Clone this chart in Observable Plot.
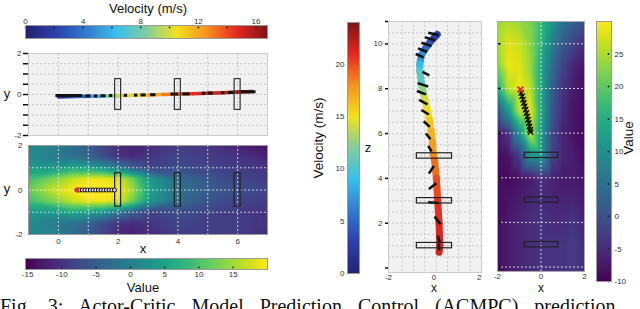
<!DOCTYPE html>
<html><head><meta charset="utf-8">
<script src="https://cdn.jsdelivr.net/npm/d3@7"></script>
<script src="https://cdn.jsdelivr.net/npm/@observablehq/plot@0.6"></script>
<style>
html,body{margin:0;padding:0;background:#fff;}
#root{position:relative;width:640px;height:309px;overflow:hidden;font-family:"Liberation Sans",Arial,sans-serif;}
.lbl{position:absolute;white-space:nowrap;color:#111;line-height:1;}
.cap{position:absolute;left:0;top:300px;width:640px;white-space:nowrap;font-family:"Liberation Serif","Times New Roman",serif;font-size:20px;line-height:12px;color:#111;word-spacing:11px;}
</style></head><body><div id="root"></div>
<script>
// ---------- tick labels ----------
const velTicksTop = [0, 4, 8, 12, 16];
const velMinorTop = [0, 2, 4, 6, 8, 10, 12, 14, 16];
const velTicksMid = [0, 5, 10, 15, 20];
const valTicksBottom = [-15, -10, -5, 0, 5, 10, 15];
const valTicksRight = [-10, -5, 0, 5, 10, 15, 20, 25];

// ---------- top-left: x-y trajectory ----------
const trajX = [0, 0.5, 1, 1.5, 2, 2.5, 3, 3.5, 4, 4.5, 5, 5.5, 6, 6.5];
const trajY = [-0.12, -0.1, -0.09, -0.08, -0.06, -0.04, -0.02, 0, 0.02, 0.04, 0.06, 0.09, 0.12, 0.15];
const trajV = [1, 2.5, 4, 7, 9.5, 10.5, 11.5, 12.5, 13.5, 14.5, 15, 15.5, 16, 16.5];
const dashX1 = [-0.1, 0.91, 1.19, 1.41, 1.69, 2.19, 2.53, 2.75, 3.07, 3.75, 4.15, 4.8, 5.0, 5.45, 5.68, 6.1];
const dashX2 = [0.8, 1.08, 1.3, 1.58, 1.8, 2.3, 2.64, 2.92, 3.25, 4.0, 4.4, 4.92, 5.16, 5.55, 5.86, 6.6];
const dashY  = [-0.05, -0.07, -0.07, -0.06, -0.05, -0.04, -0.03, -0.02, -0.01, 0.02, 0.03, 0.06, 0.07, 0.09, 0.1, 0.13];
const gateX = [2, 4, 6];

// ---------- bottom-left: value field ----------
const heatX = [-1, 0, 0.5, 1, 1.5, 2, 2.5, 3, 4, 5, 6, 7];
const heatY = [2, 1.5, 1, 0.5, 0, -0.5, -1, -1.5, -2];
const heatV = [
  [ 1,  0, -3, -5, -8, -11, -12, -11, -9, -10, -12, -14],
  [ 2, -1, -2, -4, -7, -10, -11, -10, -8,  -9, -10, -12],
  [ 4,  4,  6,  5,  3,  -1,  -5,  -8, -7,  -8,  -9, -10],
  [ 9, 14, 17, 19, 19,  18,  12,   4, -3,  -6,  -8,  -9],
  [12, 18, 20, 21, 21,  20,  15,   6, -2,  -5,  -7,  -8],
  [ 9, 14, 17, 19, 19,  18,  12,   4, -3,  -6,  -8,  -9],
  [ 4,  4,  6,  5,  3,  -1,  -5,  -8, -7,  -8,  -9, -10],
  [ 2, -1, -2, -4, -7, -10, -11, -10, -8,  -9,  -9, -10],
  [ 1,  0, -3, -5, -8, -11, -12, -11, -9,  -9,  -9, -11]
];
const predX = [0.62, 0.71, 0.8, 0.89, 0.98, 1.07, 1.16, 1.25, 1.34, 1.43, 1.52, 1.61, 1.7, 1.79, 1.88];
const predY = [0, 0, 0, 0, 0, 0, 0, 0, 0, 0, 0, 0, 0, 0, 0];

// ---------- middle: x-z trajectory ----------
const midX = [0.15, -0.15, -0.37, -0.55, -0.62, -0.62, -0.52, -0.41, -0.3, -0.19, -0.12, -0.06, -0.03, 0.03, 0.11, 0.17, 0.23, 0.26, 0.23];
const midZ = [10.42, 10.1, 9.8, 9.5, 9.1, 8.8, 8.07, 7.6, 7.1, 6.6, 6.1, 5.6, 5.1, 4.8, 4.0, 3.0, 2.0, 1.0, 0.7];
const midV = [2, 3.5, 4.5, 6, 8, 9.5, 11.5, 13.5, 15, 15.5, 16.5, 17, 18, 18.5, 19.5, 20.5, 21, 21.5, 21.5];
const arrX1 = [-0.25, -0.4, -0.55, -0.7, -0.8, -0.5, -0.72, -0.75, -0.65, -0.55, -0.45, -0.35, -0.25, -0.22, -0.22, -0.25, 0.03, 0.17, 0.2];
const arrZ1 = [10.5, 10.3, 10.05, 9.8, 9.55, 8.75, 8.25, 7.9, 7.5, 7.05, 6.55, 6.0, 5.45, 4.21, 3.53, 2.94, 2.3, 1.45, 1.1];
const arrX2 = [0.2, 0.05, -0.1, -0.3, -0.45, -0.2, -0.25, -0.35, -0.28, -0.22, -0.18, -0.15, -0.1, 0.0, 0.11, 0.22, 0.29, 0.26, 0.25];
const arrZ2 = [10.4, 10.15, 9.9, 9.65, 9.4, 8.6, 8.1, 7.75, 7.3, 6.85, 6.3, 5.75, 5.2, 4.55, 3.78, 2.9, 1.95, 1.15, 0.8];
const gateZ = [5, 3, 1];
const midGridX = [-1.4, -0.9, -0.4, 0.1, 0.6, 1.1, 1.6];
const midGridZ = [0.5, 1, 1.5, 2, 2.5, 3, 3.5, 4, 4.5, 5, 5.5, 6, 6.5, 7, 7.5, 8, 8.5, 9, 9.5, 10, 10.5];

// ---------- right: value field (x-z) ----------
const rX = [-2, -1.5, -1, -0.5, 0, 0.5, 1, 1.5, 2];
const rZ = [11, 10, 9, 8, 7, 6, 5, 4, 3, 2, 1, -0.2];
const rV = [
  [24, 25, 24, 22, 17, 11,  5,  2,  0],
  [24, 28, 27, 23, 16,  7,  1, -2, -5],
  [22, 29, 28, 24, 14,  4, -2, -6, -8],
  [15, 26, 29, 26, 14,  2, -4, -7, -9],
  [ 0, 12, 26, 29, 14,  1, -5, -8, -9],
  [-8, -4, 10, 27, 12, -1, -6, -8, -9],
  [-9, -8, -3, 10, 12, -2, -6, -7, -9],
  [-9, -9, -8, -7, -4, -6, -7, -7, -8],
  [-9, -8, -7, -6, -5, -6, -6, -6, -7],
  [-9, -7, -6, -5, -4, -5, -5, -4, -6],
  [-9, -7, -6, -5, -4, -4, -4, -3, -5],
  [-9, -7, -6, -5, -4, -4, -4, -3, -5]
];
const predRX = [-0.95, -0.91, -0.87, -0.83, -0.79, -0.75, -0.71, -0.67, -0.63, -0.6, -0.56, -0.53, -0.5, -0.48];
const predRZ = [7.95, 7.8, 7.65, 7.5, 7.35, 7.2, 7.05, 6.9, 6.75, 6.6, 6.45, 6.3, 6.15, 6.05];

// ---------- colour helpers ----------
const jetColors = ["#23236e", "#2b40aa", "#3479d0", "#37c0ee", "#80cd9c", "#f1e21e", "#f6921f", "#e3281f", "#7c1515"];
function jet(lo, hi) {
  return {type: "linear", domain: jetColors.map((c, i) => lo + (hi - lo) * i / (jetColors.length - 1)), range: jetColors, interpolate: "rgb", clamp: true};
}
const fmt = d => String(d);
const baseStyle = {fontFamily: "'Liberation Sans', Arial, sans-serif", fontSize: "8px", color: "#333", background: "transparent", overflow: "visible"};
const root = document.getElementById("root");
function place(svg, left, top) {
  svg.style.position = "absolute"; svg.style.left = left + "px"; svg.style.top = top + "px";
  root.appendChild(svg);
}
function label(text, cx, cy, size, rot) {
  const d = document.createElement("div");
  d.className = "lbl"; d.textContent = text;
  d.style.left = cx + "px"; d.style.top = cy + "px"; d.style.fontSize = size + "px";
  d.style.transform = "translate(-50%,-50%)" + (rot ? " rotate(" + rot + "deg)" : "");
  root.appendChild(d);
}
const segs = (xs, ys, vs) => xs.slice(1).map((_, i) => ({x1: xs[i], y1: ys[i], x2: xs[i + 1], y2: ys[i + 1], v: (vs[i] + vs[i + 1]) / 2}));
const grid = (xs, ys, rows) => ys.flatMap((y, j) => xs.map((x, i) => ({x, y, v: rows[j][i]})));

// ---------- top colorbar ----------
place(Plot.plot({
  width: 275, height: 28, marginLeft: 25, marginRight: 8, marginTop: 13, marginBottom: 2,
  style: baseStyle,
  x: {domain: [0, 16.8]}, y: {domain: [0, 1], axis: null},
  color: jet(0, 16.8),
  marks: [
    Plot.raster({fill: (x, y) => x, x1: 0, x2: 16.8, y1: 0, y2: 1}),
    Plot.dot(velMinorTop, {x: d => d, y: 0.85, r: 0.9, fill: "#222"}),
    Plot.frame({stroke: "#999"}),
    Plot.axisX(velTicksTop, {anchor: "top", tickSize: 0, tickPadding: 2, tickFormat: fmt, label: null})
  ]
}), 0, 12);

// ---------- top-left x-y plot ----------
const trajSegs = segs(trajX, trajY, trajV);
const dashes = dashX1.map((x1, i) => ({x1, x2: dashX2[i], y: dashY[i]}));
place(Plot.plot({
  width: 275, height: 95, marginLeft: 28, marginRight: 8, marginTop: 8, marginBottom: 5,
  style: baseStyle,
  x: {domain: [-1, 7], axis: null}, y: {domain: [-2, 2]},
  color: jet(0, 16.8),
  marks: [
    Plot.frame({fill: "#f1f1f1", stroke: "#ccc"}),
    Plot.gridX([0, 1, 2, 3, 4, 5, 6], {stroke: "#c4c4c4", strokeOpacity: 1, strokeDasharray: "2,2"}),
    Plot.gridY([-1.5, -1, -0.5, 0, 0.5, 1, 1.5], {stroke: "#c4c4c4", strokeOpacity: 1, strokeDasharray: "2,2"}),
    Plot.link(trajSegs, {x1: "x1", y1: "y1", x2: "x2", y2: "y2", stroke: "v", strokeWidth: 3.5, strokeLinecap: "round"}),
    Plot.link(dashes, {x1: "x1", x2: "x2", y1: "y", y2: "y", stroke: "#111", strokeWidth: 3}),
    Plot.rect(gateX, {x1: d => d - 0.1, x2: d => d + 0.1, y1: -0.75, y2: 0.75, fill: "none", stroke: "#333", strokeWidth: 1.2}),
    Plot.axisY([-2, -1.5, -1, -0.5, 0, 0.5, 1, 1.5, 2], {tickSize: 5, strokeWidth: 1.5, stroke: "#111", tickPadding: 2, tickFormat: d => ([2, 0, -2].includes(d) ? String(d) : ""), label: null})
  ]
}), 0, 45);

// ---------- bottom-left heatmap ----------
const heatTable = grid(heatX, heatY, heatV);
const preds = predX.map((x, i) => ({x, y: predY[i]}));
place(Plot.plot({
  width: 275, height: 115, marginLeft: 28, marginRight: 8, marginTop: 5, marginBottom: 21,
  style: baseStyle,
  x: {domain: [-1, 7]}, y: {domain: [-2, 2]},
  color: {type: "linear", scheme: "viridis", domain: [-15.3, 20], clamp: true},
  marks: [
    Plot.raster(heatTable, {x: "x", y: "y", fill: "v", interpolate: "barycentric", x1: -1, x2: 7, y1: -2, y2: 2}),
    Plot.gridX([0, 1, 2, 3, 4, 5, 6], {stroke: "#e8e8e8", strokeOpacity: 0.8, strokeDasharray: "2,2"}),
    Plot.gridY([-1, 0, 1], {stroke: "#e8e8e8", strokeOpacity: 0.8, strokeDasharray: "2,2"}),
    Plot.rect(gateX, {x1: d => d - 0.1, x2: d => d + 0.1, y1: -0.75, y2: 0.75, fill: "none", stroke: "#222", strokeWidth: 1.2}),
    Plot.line(preds, {x: "x", y: "y", stroke: "#111", strokeWidth: 1}),
    Plot.dot(preds, {x: "x", y: "y", r: 2, stroke: "#111", fill: "#ddd", strokeWidth: 1}),
    Plot.dot(preds.slice(0, 1), {x: "x", y: "y", r: 2.3, fill: "#e03030", symbol: "square"}),
    Plot.frame({stroke: "#999"}),
    Plot.axisX([0, 2, 4, 6], {tickSize: 0, tickPadding: 4, tickFormat: fmt, label: null}),
    Plot.axisY([-2, 0, 2], {tickSize: 0, tickPadding: 6, tickFormat: fmt, label: null})
  ]
}), 0, 140);

// ---------- bottom colorbar ----------
place(Plot.plot({
  width: 275, height: 32, marginLeft: 25, marginRight: 8, marginTop: 8, marginBottom: 13,
  style: baseStyle,
  x: {domain: [-15.3, 20]}, y: {domain: [0, 1], axis: null},
  color: {type: "linear", scheme: "viridis", domain: [-15.3, 20], clamp: true},
  marks: [
    Plot.raster({fill: (x, y) => x, x1: -15.3, x2: 20, y1: 0, y2: 1}),
    Plot.dot(valTicksBottom, {x: d => d, y: 0.2, r: 0.9, fill: "#222"}),
    Plot.frame({stroke: "#999"}),
    Plot.axisX(valTicksBottom, {tickSize: 0, tickPadding: 2, tickFormat: fmt, label: null})
  ]
}), 0, 250);

// ---------- middle vertical colorbar ----------
place(Plot.plot({
  width: 45, height: 265, marginLeft: 27, marginRight: 6, marginTop: 10, marginBottom: 4,
  style: baseStyle,
  y: {domain: [0, 24]}, x: {domain: [0, 1], axis: null},
  color: jet(0, 24),
  marks: [
    Plot.raster({fill: (x, y) => y, x1: 0, x2: 1, y1: 0, y2: 24}),
    Plot.frame({stroke: "#999"}),
    Plot.axisY(velTicksMid, {tickSize: 0, tickPadding: 3, tickFormat: fmt, label: null})
  ]
}), 320, 12);

// ---------- middle x-z plot ----------
const midSegs = segs(midX, midZ, midV);
const arrows = arrX1.map((x1, i) => ({x1, z1: arrZ1[i], x2: arrX2[i], z2: arrZ2[i]}));
place(Plot.plot({
  width: 130, height: 280, marginLeft: 28, marginRight: 9, marginTop: 11, marginBottom: 18,
  style: baseStyle,
  x: {domain: [-2, 2.1]}, y: {domain: [-0.2, 11]},
  color: jet(0, 24),
  marks: [
    Plot.frame({fill: "#f1f1f1", stroke: "#ccc"}),
    Plot.gridX(midGridX, {stroke: "#c8c8c8", strokeOpacity: 1, strokeDasharray: "2,2"}),
    Plot.gridY(midGridZ, {stroke: "#c8c8c8", strokeOpacity: 1, strokeDasharray: "2,2"}),
    Plot.link(midSegs, {x1: "x1", y1: "y1", x2: "x2", y2: "y2", stroke: "v", strokeWidth: 7, strokeLinecap: "round"}),
    Plot.link(arrows, {x1: "x1", y1: "z1", x2: "x2", y2: "z2", stroke: "#111", strokeWidth: 2.5}),
    Plot.rect(gateZ, {x1: -0.75, x2: 0.8, y1: d => d - 0.12, y2: d => d + 0.12, fill: "none", stroke: "#222", strokeWidth: 1.2}),
    Plot.axisY([0, 2, 4, 6, 8, 10, 11], {tickSize: 3, strokeWidth: 1.5, stroke: "#111", tickPadding: 3, tickFormat: d => (d >= 2 && d <= 10 ? String(d) : ""), label: null}),
    Plot.axisX([-2, 0, 2], {tickSize: 0, tickPadding: 2, tickFormat: fmt, label: null})
  ]
}), 360, 10);

// ---------- right heatmap ----------
const rTable = grid(rX, rZ, rV);
const predsR = predRX.map((x, i) => ({x, z: predRZ[i]}));
place(Plot.plot({
  width: 120, height: 280, marginLeft: 27, marginRight: 6, marginTop: 11, marginBottom: 19,
  style: baseStyle,
  x: {domain: [-2, 2]}, y: {domain: [-0.2, 11], axis: null},
  color: {type: "linear", scheme: "viridis", domain: [-10, 30], clamp: true},
  marks: [
    Plot.raster(rTable, {x: "x", y: "y", fill: "v", interpolate: "barycentric", x1: -2, x2: 2, y1: -0.2, y2: 11}),
    Plot.gridY([0, 2, 4, 6, 8, 10], {stroke: "#eee", strokeOpacity: 0.85, strokeDasharray: "2,2"}),
    Plot.gridX([0], {stroke: "#eee", strokeOpacity: 0.85, strokeDasharray: "2,2"}),
    Plot.link([0, 2, 4, 6, 8, 10], {x1: -2, x2: -1.85, y1: d => d, y2: d => d, stroke: "#111", strokeWidth: 1.5}),
    Plot.rect(gateZ, {x1: -0.75, x2: 0.8, y1: d => d - 0.12, y2: d => d + 0.12, fill: "none", stroke: "#222", strokeWidth: 1.2}),
    Plot.line(predsR, {x: "x", y: "z", stroke: "#111", strokeWidth: 1}),
    Plot.dot(predsR, {x: "x", y: "z", r: 2.6, symbol: "times", stroke: "#111", strokeWidth: 1.3}),
    Plot.dot(predsR.slice(0, 1), {x: "x", y: "z", r: 2.6, symbol: "times", stroke: "#e03030", strokeWidth: 2}),
    Plot.frame({stroke: "#aaa"}),
    Plot.axisX([-2, 0, 2], {tickSize: 0, tickPadding: 2, tickFormat: fmt, label: null})
  ]
}), 470, 10);

// ---------- right colorbar ----------
place(Plot.plot({
  width: 40, height: 280, marginLeft: 6, marginRight: 19, marginTop: 11, marginBottom: 9,
  style: baseStyle,
  y: {domain: [-10, 30]}, x: {domain: [0, 1], axis: null},
  color: {type: "linear", scheme: "viridis", domain: [-10, 30], clamp: true},
  marks: [
    Plot.raster({fill: (x, y) => y, x1: 0, x2: 1, y1: -10, y2: 30}),
    Plot.dot(valTicksRight, {x: 0.8, y: d => d, r: 0.9, fill: "#222"}),
    Plot.frame({stroke: "#999"}),
    Plot.axisY(valTicksRight, {anchor: "right", tickSize: 0, tickPadding: 3, tickFormat: fmt, label: null})
  ]
}), 590, 10);

// ---------- text labels ----------
label("Velocity (m/s)", 148, 8, 13);
label("y", 7, 93, 13);
label("y", 7, 188, 13);
label("x", 143, 248, 13);
label("Value", 143, 287, 13);
label("Velocity (m/s)", 319, 138, 13.5, -90);
label("z", 368, 147, 13);
label("x", 434, 288, 12);
label("x", 541, 288, 12);
label("Value", 629, 138, 13.5, -90);
const cap = document.createElement("div");
cap.className = "cap";
cap.textContent = "Fig. 3: Actor-Critic Model Prediction Control (ACMPC) prediction";
root.appendChild(cap);
</script></body></html>
